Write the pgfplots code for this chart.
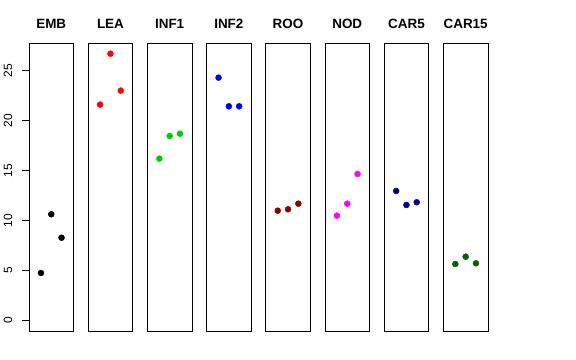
\documentclass[border=0pt]{standalone}
\usepackage{pgfplots}
\pgfplotsset{compat=1.18}
\usepackage{fontspec}
\setmainfont{Liberation Sans}
\definecolor{cgreen}{HTML}{00CD00}
\definecolor{cdarkred}{HTML}{8B0000}
\definecolor{cdarkblue}{HTML}{00008B}
\definecolor{cdarkgreen}{HTML}{006400}
\definecolor{cmagenta}{HTML}{FF00FF}
\pgfplotsset{
  panel/.style={
    width=44.5bp, height=287.7bp, scale only axis,
    anchor=south west,
    xmin=-0.16, xmax=4.16, ymin=-1.07, ymax=27.74,
    xtick=\empty, ytick=\empty,
    axis line style={line width=0.75bp, black},
    title style={at={(0.5,1)}, anchor=base, yshift=9bp, font=\bfseries\fontsize{13.5}{15}\selectfont},
    clip=false,
  },
  pts/.style={only marks, mark=*, mark size=3bp, color=#1, mark options={fill=#1, draw=#1}},
}
\begin{document}
\begin{tikzpicture}
\useasboundingbox (0,0) rectangle (576bp,360bp);
\begin{axis}[panel, at={(29bp,29bp)}, title={EMB},
  ytick={0,5,10,15,20,25}, ytick pos=left, tick align=outside, major tick length=7bp,
  ytick style={line width=0.75bp, black},
  /pgf/number format/assume math mode=true,
  yticklabel style={rotate=90, anchor=south, inner sep=0pt, yshift=9.5bp, font=\fontsize{12}{14}\selectfont}]
\addplot[pts=black] coordinates {(1,4.74) (2,10.62) (3,8.27)};
\end{axis}
\begin{axis}[panel, at={(88.2bp,29bp)}, title={LEA}]
\addplot[pts=red] coordinates {(1,21.6) (2,26.7) (3,23.0)};
\end{axis}
\begin{axis}[panel, at={(147.4bp,29bp)}, title={INF1}]
\addplot[pts=cgreen] coordinates {(1,16.19) (2,18.46) (3,18.69)};
\end{axis}
\begin{axis}[panel, at={(206.6bp,29bp)}, title={INF2}]
\addplot[pts=blue] coordinates {(1,24.30) (2,21.43) (3,21.43)};
\end{axis}
\begin{axis}[panel, at={(265.8bp,29bp)}, title={ROO}]
\addplot[pts=cdarkred] coordinates {(1,10.98) (2,11.12) (3,11.68)};
\end{axis}
\begin{axis}[panel, at={(325bp,29bp)}, title={NOD}]
\addplot[pts=cmagenta] coordinates {(1,10.48) (2,11.68) (3,14.65)};
\end{axis}
\begin{axis}[panel, at={(384.2bp,29bp)}, title={CAR5}]
\addplot[pts=cdarkblue] coordinates {(1,12.95) (2,11.55) (3,11.82)};
\end{axis}
\begin{axis}[panel, at={(443.4bp,29bp)}, title={CAR15}]
\addplot[pts=cdarkgreen] coordinates {(1,5.64) (2,6.37) (3,5.71)};
\end{axis}
\end{tikzpicture}
\end{document}
